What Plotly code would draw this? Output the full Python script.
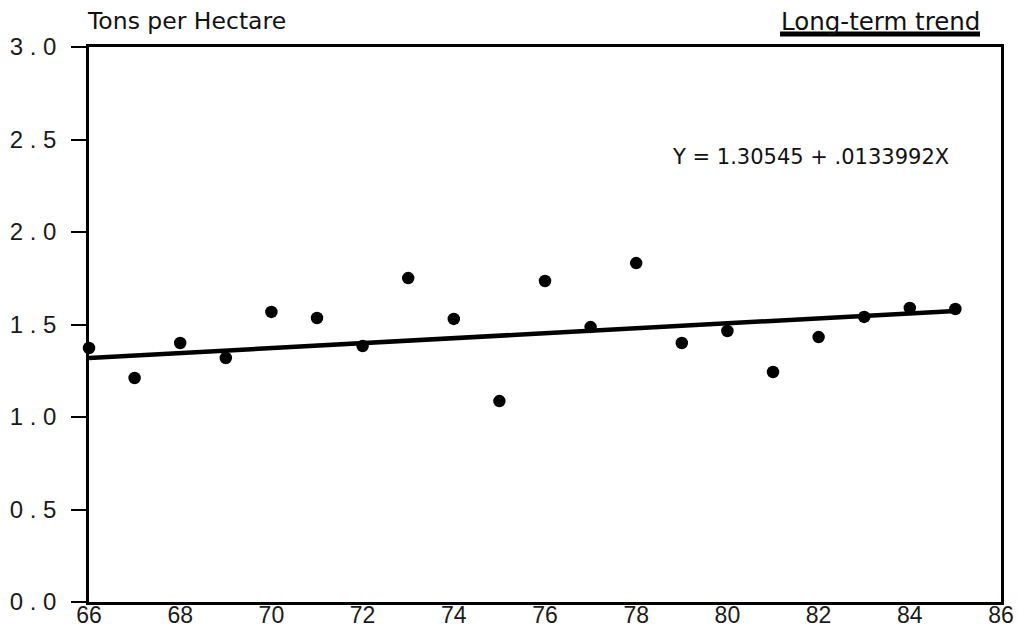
import plotly.graph_objects as go

years = [66, 67, 68, 69, 70, 71, 72, 73, 74, 75, 76, 77, 78, 79, 80, 81, 82, 83, 84, 85]
yields = [1.373, 1.211, 1.40, 1.319, 1.568, 1.535, 1.384, 1.751, 1.530, 1.086,
          1.735, 1.486, 1.832, 1.40, 1.465, 1.243, 1.432, 1.541, 1.589, 1.584]
intercept = 1.30545
slope = 0.0133992
trend = [intercept + slope * (y - 65) for y in years]

y_tickvals = [0.0, 0.5, 1.0, 1.5, 2.0, 2.5, 3.0]
y_ticktext = ["0 . 0", "0 . 5", "1 . 0", "1 . 5", "2 . 0", "2 . 5", "3 . 0"]
x_tickvals = [66, 68, 70, 72, 74, 76, 78, 80, 82, 84, 86]
x_ticktext = [str(v) for v in x_tickvals]

TICKFONT = "Liberation Sans"
TEXTFONT = "DejaVu Sans"

fig = go.Figure()
fig.add_trace(go.Scatter(x=[years[0], years[-1]], y=[trend[0], trend[-1]], mode="lines",
                         line=dict(color="black", width=4.5), showlegend=False,
                         hoverinfo="skip", cliponaxis=False))
fig.add_trace(go.Scatter(x=years, y=yields, mode="markers",
                         marker=dict(color="black", size=12.5), showlegend=False,
                         cliponaxis=False))

fig.update_layout(
    width=1018, height=633,
    margin=dict(l=89, r=17, t=47, b=31),
    paper_bgcolor="white", plot_bgcolor="white",
    font=dict(family=TEXTFONT, color="black"),
    xaxis=dict(range=[66, 86], tickvals=x_tickvals, ticktext=x_ticktext,
               showgrid=False, zeroline=False, showline=True, linecolor="black",
               linewidth=2.5, mirror=True, ticks="", ticklabelstandoff=-9, automargin=False,
               tickfont=dict(size=23, family=TICKFONT, color="#1a1a1a")),
    yaxis=dict(range=[0, 3], tickvals=y_tickvals, ticktext=y_ticktext,
               showgrid=False, zeroline=False, showline=True, linecolor="black",
               linewidth=2.5, mirror=True, ticks="outside", ticklen=15, tickwidth=1.5,
               tickcolor="black", ticklabelstandoff=10, automargin=False,
               tickfont=dict(size=24, family=TICKFONT, color="#1a1a1a")),
    annotations=[
        dict(text="Tons per Hectare", xref="paper", yref="paper", x=-0.004, y=1 + (47 - 21) / 555,
             xanchor="left", yanchor="middle", showarrow=False,
             font=dict(size=23.5, family=TEXTFONT, color="#111")),
        dict(text="Long-term trend", xref="paper", yref="paper", x=0.979, y=1 + (47 - 21) / 555,
             xanchor="right", yanchor="middle", showarrow=False,
             font=dict(size=24.5, family=TEXTFONT, color="#111")),
        dict(text="Y = 1.30545 + .0133992X", xref="paper", yref="paper", x=0.945, y=0.802,
             xanchor="right", yanchor="middle", showarrow=False,
             font=dict(size=21, family=TEXTFONT, color="#111")),
    ],
    shapes=[
        dict(type="line", xref="paper", yref="paper", x0=0.7577, x1=0.977,
             y0=1 + (47 - 34) / 555, y1=1 + (47 - 34) / 555, line=dict(color="black", width=5)),
    ],
)

fig.write_html("out.html")
